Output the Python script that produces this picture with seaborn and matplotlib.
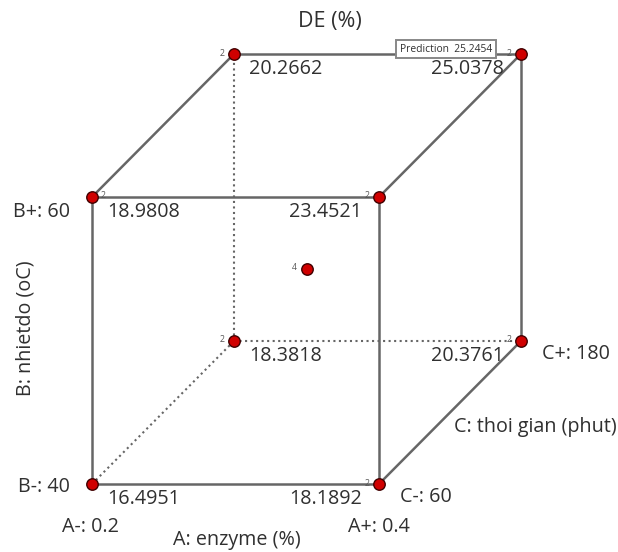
import pandas as pd
import matplotlib.pyplot as plt
import seaborn as sns

# Livelli codificati dei fattori (8 vertici + punto centrale)
A = [-1, 1, -1, 1, -1, 1, -1, 1, 0]
B = [-1, -1, 1, 1, -1, -1, 1, 1, 0]
C = [-1, -1, -1, -1, 1, 1, 1, 1, 0]
DE = [16.4951, 18.1892, 18.9808, 23.4521, 18.3818, 20.3761, 20.2662, 25.0378, None]
reps = [2, 2, 2, 2, 2, 2, 2, 2, 4]
prediction = 25.2454

a_labels = ['A-: 0.2', 'A+: 0.4', 'A: enzyme (%)']
b_labels = ['B-: 40', 'B+: 60', 'B: nhietdo (oC)']
c_labels = ['C-: 60', 'C+: 180', 'C: thoi gian (phut)']
title = 'DE (%)'

sns.set_style('white')
plt.rcParams['font.family'] = ['Open Sans', 'DejaVu Sans']
FS = 14.2
TXT = '#303030'

# proiezione obliqua del cubo sul piano della figura
X0, Y0, W, DX, DY = 92, 484, 287, 142, 143


def proj(a, b, c):
    x = X0 + W * (a + 1) / 2 + DX * (c + 1) / 2
    y = Y0 - W * (b + 1) / 2 - DY * (c + 1) / 2
    return x, y


df = pd.DataFrame({'A': A, 'B': B, 'C': C, 'DE': DE, 'reps': reps})
df['px'], df['py'] = zip(*[proj(a, b, c) for a, b, c in zip(df.A, df.B, df.C)])

fig = plt.figure(figsize=(6.18, 5.52), dpi=100)
ax = fig.add_axes([0, 0, 1, 1])
ax.set_xlim(0, 618)
ax.set_ylim(552, 0)
ax.axis('off')

# spigoli del cubo (tratteggiati quelli nascosti)
corners = df.iloc[:8]
for i in range(8):
    for j in range(i + 1, 8):
        ci, cj = corners.iloc[i], corners.iloc[j]
        diff = int(ci.A != cj.A) + int(ci.B != cj.B) + int(ci.C != cj.C)
        if diff != 1:
            continue
        hidden = any((r.A, r.B, r.C) == (-1, -1, 1) for r in (ci, cj))
        ax.plot([ci.px, cj.px], [ci.py, cj.py], color='#666666',
                lw=1.5 if hidden else 1.8, ls=':' if hidden else '-', zorder=1)

sns.scatterplot(data=df, x='px', y='py', color='#d00000', edgecolor='#400000',
                s=68, linewidth=1, zorder=5, ax=ax, legend=False)
ax.set_xlabel('')
ax.set_ylabel('')

# valori medi ai vertici
for _, r in corners.iterrows():
    if r.A < 0:
        ax.text(r.px + 15, r.py + 15, f'{r.DE:.4f}', ha='left', va='center',
                fontsize=FS, color=TXT)
    else:
        ax.text(r.px - 17, r.py + 15, f'{r.DE:.4f}', ha='right', va='center',
                fontsize=FS, color=TXT)

# numero di repliche
for _, r in df.iterrows():
    if r.A < 0 and r.C < 0:
        if r.B > 0:
            ax.text(r.px + 11, r.py - 1, str(int(r.reps)), ha='center', va='center',
                    fontsize=6.3, color='#555555')
        continue
    ax.text(r.px - 12, r.py - 1, str(int(r.reps)), ha='center', va='center',
            fontsize=6.3, color='#555555')

# etichette dei fattori
x_lo, y_lo = proj(-1, -1, -1)
x_hi, y_hi = proj(1, 1, -1)
xc, yc = proj(1, -1, 1)
ax.text(x_lo - 22, y_hi + 15, b_labels[1], ha='right', va='center', fontsize=FS, color=TXT)
ax.text(x_lo - 22, y_lo + 3, b_labels[0], ha='right', va='center', fontsize=FS, color=TXT)
ax.text(25, (y_lo + y_hi) / 2 - 12, b_labels[2], rotation=90, ha='center', va='center',
        fontsize=FS, color=TXT)
ax.text(x_lo - 30, y_lo + 43, a_labels[0], ha='left', va='center', fontsize=FS, color=TXT)
ax.text(x_hi + 31, y_lo + 43, a_labels[1], ha='right', va='center', fontsize=FS, color=TXT)
ax.text((x_lo + x_hi) / 2 + 1, y_lo + 56, a_labels[2], ha='center', va='center',
        fontsize=FS, color=TXT)
ax.text(x_hi + 21, y_lo + 13, c_labels[0], ha='left', va='center', fontsize=FS, color=TXT)
ax.text(xc + 21, yc + 13, c_labels[1], ha='left', va='center', fontsize=FS, color=TXT)
ax.text(617, 427, c_labels[2], ha='right', va='center', fontsize=FS, color=TXT)

ax.text(330, 22, title, ha='center', va='center', fontsize=FS + 1.3, color=TXT)

# box della previsione
xp, yp = proj(1, 1, 1)
ax.text(xp - 29, yp - 5, f'Prediction  {prediction}', ha='right', va='center', fontsize=7.4,
        color=TXT, zorder=6,
        bbox=dict(boxstyle='square,pad=0.35', fc='white', ec='#888888', lw=1.4))

fig.savefig('out.png', dpi=100)
